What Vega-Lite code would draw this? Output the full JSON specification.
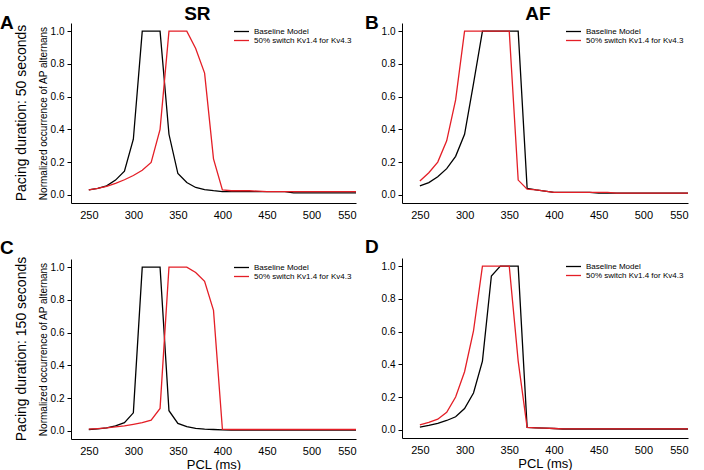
{
  "$schema": "https://vega.github.io/schema/vega-lite/v6.json",
  "padding": {"left": 0, "top": 5, "right": 0, "bottom": 0},
  "background": "white",
  "config": {
    "font": "Liberation Sans",
    "view": {"stroke": null},
    "title": {"fontSize": 19, "fontWeight": "bold", "color": "#000", "font": "Liberation Sans"},
    "axis": {"grid": false, "domainColor": "#000", "tickColor": "#000", "labelColor": "#000", "titleColor": "#000", "labelFontSize": 10, "titleFontSize": 10, "titleFontWeight": "normal", "labelFont": "Liberation Sans", "titleFont": "Liberation Sans"},
    "axisX": {"ticks": false, "labelFontSize": 11, "labelPadding": 6, "titleFontSize": 13, "titlePadding": 2},
    "axisY": {"tickSize": 4, "labelPadding": 3, "titlePadding": 2},
    "legend": {"title": null, "orient": "top-right", "offset": 0, "padding": 4, "labelFontSize": 8, "labelColor": "#000", "symbolType": "M-2,0H2", "symbolSize": 56, "symbolStrokeWidth": 1.3, "rowPadding": -1, "labelOffset": 8}
  },
  "datasets": {
    "A": [
      {"m":"Baseline Model","x":250,"y":0.03},{"m":"Baseline Model","x":260,"y":0.04},{"m":"Baseline Model","x":270,"y":0.055},{"m":"Baseline Model","x":280,"y":0.09},{"m":"Baseline Model","x":290,"y":0.145},{"m":"Baseline Model","x":300,"y":0.34},{"m":"Baseline Model","x":310,"y":1},{"m":"Baseline Model","x":320,"y":1},{"m":"Baseline Model","x":330,"y":1},{"m":"Baseline Model","x":340,"y":0.37},{"m":"Baseline Model","x":350,"y":0.13},{"m":"Baseline Model","x":360,"y":0.075},{"m":"Baseline Model","x":370,"y":0.045},{"m":"Baseline Model","x":380,"y":0.032},{"m":"Baseline Model","x":390,"y":0.025},{"m":"Baseline Model","x":400,"y":0.02},{"m":"Baseline Model","x":410,"y":0.02},{"m":"Baseline Model","x":420,"y":0.02},{"m":"Baseline Model","x":430,"y":0.02},{"m":"Baseline Model","x":440,"y":0.02},{"m":"Baseline Model","x":450,"y":0.02},{"m":"Baseline Model","x":460,"y":0.02},{"m":"Baseline Model","x":470,"y":0.02},{"m":"Baseline Model","x":480,"y":0.012},{"m":"Baseline Model","x":490,"y":0.012},{"m":"Baseline Model","x":500,"y":0.012},{"m":"Baseline Model","x":510,"y":0.012},{"m":"Baseline Model","x":520,"y":0.012},{"m":"Baseline Model","x":530,"y":0.012},{"m":"Baseline Model","x":540,"y":0.012},{"m":"Baseline Model","x":550,"y":0.012},
      {"m":"50% switch Kv1.4 for Kv4.3","x":250,"y":0.03},{"m":"50% switch Kv1.4 for Kv4.3","x":260,"y":0.04},{"m":"50% switch Kv1.4 for Kv4.3","x":270,"y":0.052},{"m":"50% switch Kv1.4 for Kv4.3","x":280,"y":0.07},{"m":"50% switch Kv1.4 for Kv4.3","x":290,"y":0.092},{"m":"50% switch Kv1.4 for Kv4.3","x":300,"y":0.118},{"m":"50% switch Kv1.4 for Kv4.3","x":310,"y":0.15},{"m":"50% switch Kv1.4 for Kv4.3","x":320,"y":0.198},{"m":"50% switch Kv1.4 for Kv4.3","x":330,"y":0.4},{"m":"50% switch Kv1.4 for Kv4.3","x":340,"y":1},{"m":"50% switch Kv1.4 for Kv4.3","x":350,"y":1},{"m":"50% switch Kv1.4 for Kv4.3","x":360,"y":1},{"m":"50% switch Kv1.4 for Kv4.3","x":370,"y":0.894},{"m":"50% switch Kv1.4 for Kv4.3","x":380,"y":0.744},{"m":"50% switch Kv1.4 for Kv4.3","x":390,"y":0.22},{"m":"50% switch Kv1.4 for Kv4.3","x":400,"y":0.03},{"m":"50% switch Kv1.4 for Kv4.3","x":410,"y":0.025},{"m":"50% switch Kv1.4 for Kv4.3","x":420,"y":0.025},{"m":"50% switch Kv1.4 for Kv4.3","x":430,"y":0.025},{"m":"50% switch Kv1.4 for Kv4.3","x":440,"y":0.022},{"m":"50% switch Kv1.4 for Kv4.3","x":450,"y":0.02},{"m":"50% switch Kv1.4 for Kv4.3","x":460,"y":0.02},{"m":"50% switch Kv1.4 for Kv4.3","x":470,"y":0.02},{"m":"50% switch Kv1.4 for Kv4.3","x":480,"y":0.02},{"m":"50% switch Kv1.4 for Kv4.3","x":490,"y":0.02},{"m":"50% switch Kv1.4 for Kv4.3","x":500,"y":0.02},{"m":"50% switch Kv1.4 for Kv4.3","x":510,"y":0.02},{"m":"50% switch Kv1.4 for Kv4.3","x":520,"y":0.02},{"m":"50% switch Kv1.4 for Kv4.3","x":530,"y":0.02},{"m":"50% switch Kv1.4 for Kv4.3","x":540,"y":0.02},{"m":"50% switch Kv1.4 for Kv4.3","x":550,"y":0.02}
    ],
    "B": [
      {"m":"Baseline Model","x":250,"y":0.055},{"m":"Baseline Model","x":260,"y":0.075},{"m":"Baseline Model","x":270,"y":0.11},{"m":"Baseline Model","x":280,"y":0.16},{"m":"Baseline Model","x":290,"y":0.235},{"m":"Baseline Model","x":300,"y":0.37},{"m":"Baseline Model","x":310,"y":0.68},{"m":"Baseline Model","x":320,"y":1},{"m":"Baseline Model","x":330,"y":1},{"m":"Baseline Model","x":340,"y":1},{"m":"Baseline Model","x":350,"y":1},{"m":"Baseline Model","x":360,"y":1},{"m":"Baseline Model","x":370,"y":0.04},{"m":"Baseline Model","x":380,"y":0.03},{"m":"Baseline Model","x":390,"y":0.022},{"m":"Baseline Model","x":400,"y":0.015},{"m":"Baseline Model","x":410,"y":0.015},{"m":"Baseline Model","x":420,"y":0.015},{"m":"Baseline Model","x":430,"y":0.015},{"m":"Baseline Model","x":440,"y":0.015},{"m":"Baseline Model","x":450,"y":0.01},{"m":"Baseline Model","x":460,"y":0.01},{"m":"Baseline Model","x":470,"y":0.01},{"m":"Baseline Model","x":480,"y":0.01},{"m":"Baseline Model","x":490,"y":0.01},{"m":"Baseline Model","x":500,"y":0.01},{"m":"Baseline Model","x":510,"y":0.01},{"m":"Baseline Model","x":520,"y":0.01},{"m":"Baseline Model","x":530,"y":0.01},{"m":"Baseline Model","x":540,"y":0.01},{"m":"Baseline Model","x":550,"y":0.01},
      {"m":"50% switch Kv1.4 for Kv4.3","x":250,"y":0.085},{"m":"50% switch Kv1.4 for Kv4.3","x":260,"y":0.135},{"m":"50% switch Kv1.4 for Kv4.3","x":270,"y":0.2},{"m":"50% switch Kv1.4 for Kv4.3","x":280,"y":0.33},{"m":"50% switch Kv1.4 for Kv4.3","x":290,"y":0.58},{"m":"50% switch Kv1.4 for Kv4.3","x":300,"y":1},{"m":"50% switch Kv1.4 for Kv4.3","x":310,"y":1},{"m":"50% switch Kv1.4 for Kv4.3","x":320,"y":1},{"m":"50% switch Kv1.4 for Kv4.3","x":330,"y":1},{"m":"50% switch Kv1.4 for Kv4.3","x":340,"y":1},{"m":"50% switch Kv1.4 for Kv4.3","x":350,"y":1},{"m":"50% switch Kv1.4 for Kv4.3","x":360,"y":0.09},{"m":"50% switch Kv1.4 for Kv4.3","x":370,"y":0.035},{"m":"50% switch Kv1.4 for Kv4.3","x":380,"y":0.03},{"m":"50% switch Kv1.4 for Kv4.3","x":390,"y":0.022},{"m":"50% switch Kv1.4 for Kv4.3","x":400,"y":0.015},{"m":"50% switch Kv1.4 for Kv4.3","x":410,"y":0.015},{"m":"50% switch Kv1.4 for Kv4.3","x":420,"y":0.015},{"m":"50% switch Kv1.4 for Kv4.3","x":430,"y":0.015},{"m":"50% switch Kv1.4 for Kv4.3","x":440,"y":0.015},{"m":"50% switch Kv1.4 for Kv4.3","x":450,"y":0.015},{"m":"50% switch Kv1.4 for Kv4.3","x":460,"y":0.015},{"m":"50% switch Kv1.4 for Kv4.3","x":470,"y":0.01},{"m":"50% switch Kv1.4 for Kv4.3","x":480,"y":0.01},{"m":"50% switch Kv1.4 for Kv4.3","x":490,"y":0.01},{"m":"50% switch Kv1.4 for Kv4.3","x":500,"y":0.01},{"m":"50% switch Kv1.4 for Kv4.3","x":510,"y":0.01},{"m":"50% switch Kv1.4 for Kv4.3","x":520,"y":0.01},{"m":"50% switch Kv1.4 for Kv4.3","x":530,"y":0.01},{"m":"50% switch Kv1.4 for Kv4.3","x":540,"y":0.01},{"m":"50% switch Kv1.4 for Kv4.3","x":550,"y":0.01}
    ],
    "C": [
      {"m":"Baseline Model","x":250,"y":0.008},{"m":"Baseline Model","x":260,"y":0.012},{"m":"Baseline Model","x":270,"y":0.018},{"m":"Baseline Model","x":280,"y":0.03},{"m":"Baseline Model","x":290,"y":0.05},{"m":"Baseline Model","x":300,"y":0.11},{"m":"Baseline Model","x":310,"y":1},{"m":"Baseline Model","x":320,"y":1},{"m":"Baseline Model","x":330,"y":1},{"m":"Baseline Model","x":340,"y":0.123},{"m":"Baseline Model","x":350,"y":0.045},{"m":"Baseline Model","x":360,"y":0.025},{"m":"Baseline Model","x":370,"y":0.015},{"m":"Baseline Model","x":380,"y":0.01},{"m":"Baseline Model","x":390,"y":0.008},{"m":"Baseline Model","x":400,"y":0.006},{"m":"Baseline Model","x":410,"y":0.005},{"m":"Baseline Model","x":420,"y":0.005},{"m":"Baseline Model","x":430,"y":0.005},{"m":"Baseline Model","x":440,"y":0.005},{"m":"Baseline Model","x":450,"y":0.005},{"m":"Baseline Model","x":460,"y":0.005},{"m":"Baseline Model","x":470,"y":0.005},{"m":"Baseline Model","x":480,"y":0.005},{"m":"Baseline Model","x":490,"y":0.005},{"m":"Baseline Model","x":500,"y":0.005},{"m":"Baseline Model","x":510,"y":0.005},{"m":"Baseline Model","x":520,"y":0.005},{"m":"Baseline Model","x":530,"y":0.005},{"m":"Baseline Model","x":540,"y":0.005},{"m":"Baseline Model","x":550,"y":0.005},
      {"m":"50% switch Kv1.4 for Kv4.3","x":250,"y":0.01},{"m":"50% switch Kv1.4 for Kv4.3","x":260,"y":0.014},{"m":"50% switch Kv1.4 for Kv4.3","x":270,"y":0.018},{"m":"50% switch Kv1.4 for Kv4.3","x":280,"y":0.024},{"m":"50% switch Kv1.4 for Kv4.3","x":290,"y":0.03},{"m":"50% switch Kv1.4 for Kv4.3","x":300,"y":0.04},{"m":"50% switch Kv1.4 for Kv4.3","x":310,"y":0.05},{"m":"50% switch Kv1.4 for Kv4.3","x":320,"y":0.065},{"m":"50% switch Kv1.4 for Kv4.3","x":330,"y":0.137},{"m":"50% switch Kv1.4 for Kv4.3","x":340,"y":1},{"m":"50% switch Kv1.4 for Kv4.3","x":350,"y":1},{"m":"50% switch Kv1.4 for Kv4.3","x":360,"y":1},{"m":"50% switch Kv1.4 for Kv4.3","x":370,"y":0.968},{"m":"50% switch Kv1.4 for Kv4.3","x":380,"y":0.914},{"m":"50% switch Kv1.4 for Kv4.3","x":390,"y":0.736},{"m":"50% switch Kv1.4 for Kv4.3","x":400,"y":0.01},{"m":"50% switch Kv1.4 for Kv4.3","x":410,"y":0.008},{"m":"50% switch Kv1.4 for Kv4.3","x":420,"y":0.008},{"m":"50% switch Kv1.4 for Kv4.3","x":430,"y":0.008},{"m":"50% switch Kv1.4 for Kv4.3","x":440,"y":0.008},{"m":"50% switch Kv1.4 for Kv4.3","x":450,"y":0.008},{"m":"50% switch Kv1.4 for Kv4.3","x":460,"y":0.008},{"m":"50% switch Kv1.4 for Kv4.3","x":470,"y":0.008},{"m":"50% switch Kv1.4 for Kv4.3","x":480,"y":0.008},{"m":"50% switch Kv1.4 for Kv4.3","x":490,"y":0.008},{"m":"50% switch Kv1.4 for Kv4.3","x":500,"y":0.008},{"m":"50% switch Kv1.4 for Kv4.3","x":510,"y":0.008},{"m":"50% switch Kv1.4 for Kv4.3","x":520,"y":0.008},{"m":"50% switch Kv1.4 for Kv4.3","x":530,"y":0.008},{"m":"50% switch Kv1.4 for Kv4.3","x":540,"y":0.008},{"m":"50% switch Kv1.4 for Kv4.3","x":550,"y":0.008}
    ],
    "D": [
      {"m":"Baseline Model","x":250,"y":0.016},{"m":"Baseline Model","x":260,"y":0.027},{"m":"Baseline Model","x":270,"y":0.04},{"m":"Baseline Model","x":280,"y":0.057},{"m":"Baseline Model","x":290,"y":0.08},{"m":"Baseline Model","x":300,"y":0.13},{"m":"Baseline Model","x":310,"y":0.225},{"m":"Baseline Model","x":320,"y":0.42},{"m":"Baseline Model","x":330,"y":0.94},{"m":"Baseline Model","x":340,"y":1},{"m":"Baseline Model","x":350,"y":1},{"m":"Baseline Model","x":360,"y":1},{"m":"Baseline Model","x":370,"y":0.015},{"m":"Baseline Model","x":380,"y":0.012},{"m":"Baseline Model","x":390,"y":0.01},{"m":"Baseline Model","x":400,"y":0.008},{"m":"Baseline Model","x":410,"y":0.005},{"m":"Baseline Model","x":420,"y":0.005},{"m":"Baseline Model","x":430,"y":0.005},{"m":"Baseline Model","x":440,"y":0.005},{"m":"Baseline Model","x":450,"y":0.005},{"m":"Baseline Model","x":460,"y":0.005},{"m":"Baseline Model","x":470,"y":0.005},{"m":"Baseline Model","x":480,"y":0.005},{"m":"Baseline Model","x":490,"y":0.005},{"m":"Baseline Model","x":500,"y":0.005},{"m":"Baseline Model","x":510,"y":0.005},{"m":"Baseline Model","x":520,"y":0.005},{"m":"Baseline Model","x":530,"y":0.005},{"m":"Baseline Model","x":540,"y":0.005},{"m":"Baseline Model","x":550,"y":0.005},
      {"m":"50% switch Kv1.4 for Kv4.3","x":250,"y":0.03},{"m":"50% switch Kv1.4 for Kv4.3","x":260,"y":0.045},{"m":"50% switch Kv1.4 for Kv4.3","x":270,"y":0.065},{"m":"50% switch Kv1.4 for Kv4.3","x":280,"y":0.107},{"m":"50% switch Kv1.4 for Kv4.3","x":290,"y":0.2},{"m":"50% switch Kv1.4 for Kv4.3","x":300,"y":0.355},{"m":"50% switch Kv1.4 for Kv4.3","x":310,"y":0.605},{"m":"50% switch Kv1.4 for Kv4.3","x":320,"y":1},{"m":"50% switch Kv1.4 for Kv4.3","x":330,"y":1},{"m":"50% switch Kv1.4 for Kv4.3","x":340,"y":1},{"m":"50% switch Kv1.4 for Kv4.3","x":350,"y":1},{"m":"50% switch Kv1.4 for Kv4.3","x":360,"y":0.42},{"m":"50% switch Kv1.4 for Kv4.3","x":370,"y":0.015},{"m":"50% switch Kv1.4 for Kv4.3","x":380,"y":0.012},{"m":"50% switch Kv1.4 for Kv4.3","x":390,"y":0.01},{"m":"50% switch Kv1.4 for Kv4.3","x":400,"y":0.008},{"m":"50% switch Kv1.4 for Kv4.3","x":410,"y":0.006},{"m":"50% switch Kv1.4 for Kv4.3","x":420,"y":0.006},{"m":"50% switch Kv1.4 for Kv4.3","x":430,"y":0.006},{"m":"50% switch Kv1.4 for Kv4.3","x":440,"y":0.006},{"m":"50% switch Kv1.4 for Kv4.3","x":450,"y":0.006},{"m":"50% switch Kv1.4 for Kv4.3","x":460,"y":0.006},{"m":"50% switch Kv1.4 for Kv4.3","x":470,"y":0.006},{"m":"50% switch Kv1.4 for Kv4.3","x":480,"y":0.006},{"m":"50% switch Kv1.4 for Kv4.3","x":490,"y":0.006},{"m":"50% switch Kv1.4 for Kv4.3","x":500,"y":0.006},{"m":"50% switch Kv1.4 for Kv4.3","x":510,"y":0.006},{"m":"50% switch Kv1.4 for Kv4.3","x":520,"y":0.006},{"m":"50% switch Kv1.4 for Kv4.3","x":530,"y":0.006},{"m":"50% switch Kv1.4 for Kv4.3","x":540,"y":0.006},{"m":"50% switch Kv1.4 for Kv4.3","x":550,"y":0.006}
    ]
  },
  "resolve": {"scale": {"color": "independent"}, "legend": {"color": "independent"}},
  "spacing": 6,
  "hconcat": [
    {
      "title": {"text": "SR", "anchor": "middle", "offset": -10, "dx": 18},
      "spacing": 18,
      "resolve": {"scale": {"color": "independent"}, "legend": {"color": "independent"}},
      "vconcat": [
        {
          "title": {"text": "A", "anchor": "start", "frame": "bounds", "offset": -10, "dx": -15},
          "resolve": {"scale": {"color": "independent"}, "legend": {"color": "independent"}},
          "vconcat": [
            {
              "width": 285, "height": 180,
              "data": {"name": "A"},
              "title": {"text": "Pacing duration: 50 seconds", "orient": "left", "anchor": "middle", "frame": "group", "fontSize": 14, "fontWeight": "normal", "offset": 9},
              "mark": {"type": "line", "strokeWidth": 1.3},
              "encoding": {
                "x": {"field": "x", "type": "quantitative", "scale": {"domain": [230, 550], "nice": false, "zero": false}, "axis": {"values": [250, 300, 350, 400, 450, 500, 550], "title": null}},
                "y": {"field": "y", "type": "quantitative", "scale": {"domain": [-0.05, 1.05], "nice": false}, "axis": {"values": [0, 0.2, 0.4, 0.6, 0.8, 1], "format": ".1f", "title": "Normalized occurrence of AP alternans"}},
                "color": {"field": "m", "type": "nominal", "scale": {"domain": ["Baseline Model", "50% switch Kv1.4 for Kv4.3"], "range": ["#000000", "#e41e26"]}}
              }
            }
          ]
        },
        {
          "title": {"text": "C", "anchor": "start", "frame": "bounds", "offset": -1, "dx": -15},
          "resolve": {"scale": {"color": "independent"}, "legend": {"color": "independent"}},
          "vconcat": [
            {
              "width": 285, "height": 180,
              "data": {"name": "C"},
              "title": {"text": "Pacing duration: 150 seconds", "orient": "left", "anchor": "middle", "frame": "group", "fontSize": 14, "fontWeight": "normal", "offset": 9},
              "mark": {"type": "line", "strokeWidth": 1.3},
              "encoding": {
                "x": {"field": "x", "type": "quantitative", "scale": {"domain": [230, 550], "nice": false, "zero": false}, "axis": {"values": [250, 300, 350, 400, 450, 500, 550], "title": "PCL (ms)"}},
                "y": {"field": "y", "type": "quantitative", "scale": {"domain": [-0.05, 1.05], "nice": false}, "axis": {"values": [0, 0.2, 0.4, 0.6, 0.8, 1], "format": ".1f", "title": "Normalized occurrence of AP alternans"}},
                "color": {"field": "m", "type": "nominal", "scale": {"domain": ["Baseline Model", "50% switch Kv1.4 for Kv4.3"], "range": ["#000000", "#e41e26"]}}
              }
            }
          ]
        }
      ]
    },
    {
      "title": {"text": "AF", "anchor": "middle", "offset": -10, "dx": 10},
      "spacing": 18,
      "resolve": {"scale": {"color": "independent"}, "legend": {"color": "independent"}},
      "vconcat": [
        {
          "width": 286, "height": 180,
          "data": {"name": "B"},
          "title": {"text": "B", "anchor": "start", "frame": "bounds", "offset": -10, "dx": -16},
          "mark": {"type": "line", "strokeWidth": 1.3},
          "encoding": {
            "x": {"field": "x", "type": "quantitative", "scale": {"domain": [230, 550], "nice": false, "zero": false}, "axis": {"values": [250, 300, 350, 400, 450, 500, 550], "title": null}},
            "y": {"field": "y", "type": "quantitative", "scale": {"domain": [-0.05, 1.05], "nice": false}, "axis": {"values": [0, 0.2, 0.4, 0.6, 0.8, 1], "format": ".1f", "title": null}},
            "color": {"field": "m", "type": "nominal", "scale": {"domain": ["Baseline Model", "50% switch Kv1.4 for Kv4.3"], "range": ["#000000", "#e41e26"]}}
          }
        },
        {
          "width": 286, "height": 180,
          "data": {"name": "D"},
          "title": {"text": "D", "anchor": "start", "frame": "bounds", "offset": 1, "dx": -16},
          "mark": {"type": "line", "strokeWidth": 1.3},
          "encoding": {
            "x": {"field": "x", "type": "quantitative", "scale": {"domain": [230, 550], "nice": false, "zero": false}, "axis": {"values": [250, 300, 350, 400, 450, 500, 550], "title": "PCL (ms)"}},
            "y": {"field": "y", "type": "quantitative", "scale": {"domain": [-0.05, 1.05], "nice": false}, "axis": {"values": [0, 0.2, 0.4, 0.6, 0.8, 1], "format": ".1f", "title": null}},
            "color": {"field": "m", "type": "nominal", "scale": {"domain": ["Baseline Model", "50% switch Kv1.4 for Kv4.3"], "range": ["#000000", "#e41e26"]}}
          }
        }
      ]
    }
  ]
}
